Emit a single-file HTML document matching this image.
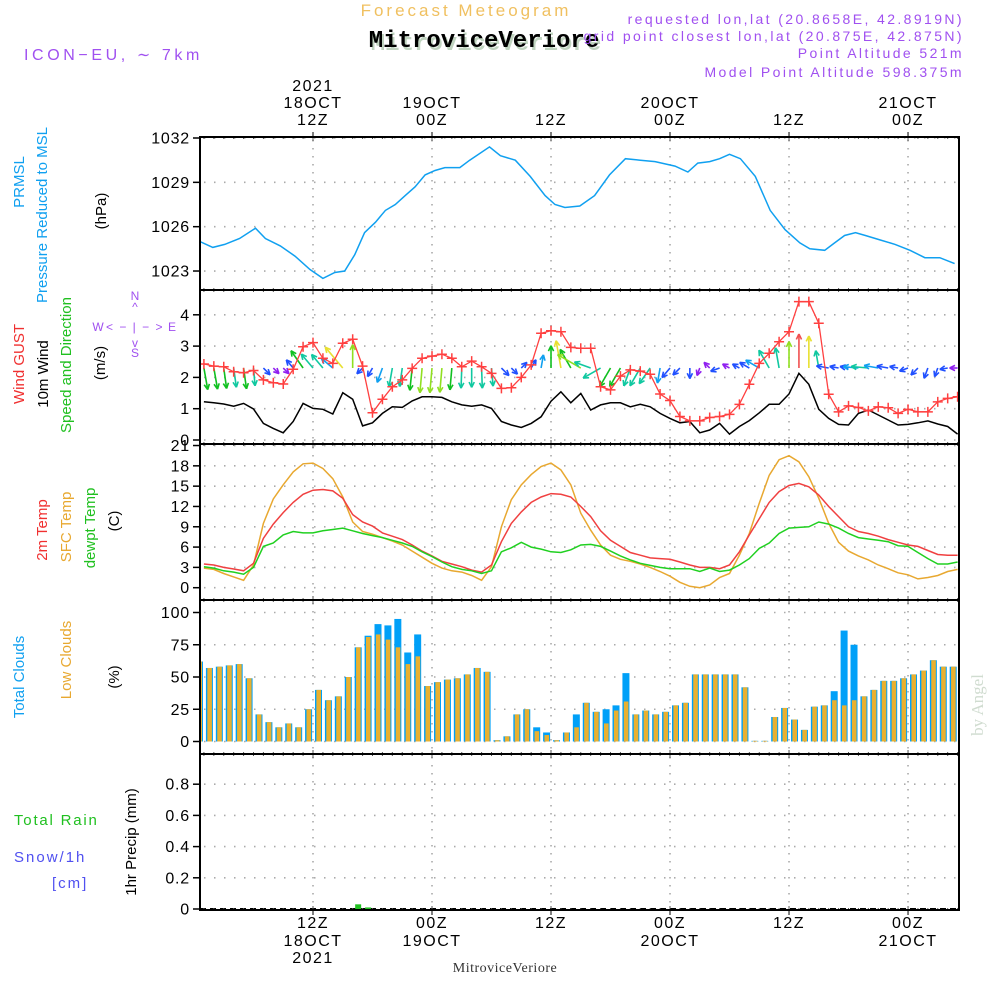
<!DOCTYPE html>
<html><head><meta charset="utf-8"><style>
html,body{margin:0;padding:0;background:#fff;width:1000px;height:1000px;overflow:hidden}
svg{display:block}
text{font-family:"Liberation Sans",sans-serif}
</style></head><body>
<svg id="chart" width="1000" height="1000" viewBox="0 0 1000 1000">
<defs><clipPath id="plotclip"><rect x="200" y="130" width="759" height="790"/></clipPath></defs>
<g>
<text x="466" y="16" text-anchor="middle" font-size="17" fill="#f0c060" letter-spacing="3" font-weight="300">Forecast Meteogram</text>
<text x="486" y="50" text-anchor="middle" font-size="24" font-weight="bold" fill="#c0d4c0" style="font-family:'Liberation Mono',monospace">MitroviceVeriore</text>
<text x="484" y="47" text-anchor="middle" font-size="24" font-weight="bold" fill="#000" style="font-family:'Liberation Mono',monospace">MitroviceVeriore</text>
<text x="24" y="60" font-size="16" fill="#a050f0" letter-spacing="3.6">ICON−EU, ∼ 7km</text>
<text x="964" y="24" text-anchor="end" font-size="14" fill="#a050f0" letter-spacing="2.4">requested lon,lat (20.8658E, 42.8919N)</text>
<text x="964" y="41" text-anchor="end" font-size="14" fill="#a050f0" letter-spacing="2.4">grid point closest lon,lat (20.875E, 42.875N)</text>
<text x="964" y="58" text-anchor="end" font-size="14" fill="#a050f0" letter-spacing="2.4">Point Altitude 521m</text>
<text x="964" y="77" text-anchor="end" font-size="14" fill="#a050f0" letter-spacing="2.4">Model Point Altitude 598.375m</text>
</g>
<g font-size="15">
<text transform="translate(24,182) rotate(-90)" text-anchor="middle" fill="#10a0f0">PRMSL</text>
<text transform="translate(47,215) rotate(-90)" text-anchor="middle" fill="#10a0f0">Pressure Reduced to MSL</text>
<text transform="translate(106,211) rotate(-90)" text-anchor="middle" fill="#000">(hPa)</text>
<text transform="translate(24,364) rotate(-90)" text-anchor="middle" fill="#f03030">Wind GUST</text>
<text transform="translate(48,374) rotate(-90)" text-anchor="middle" fill="#000">10m Wind</text>
<text transform="translate(71,365) rotate(-90)" text-anchor="middle" fill="#20c020">Speed and Direction</text>
<text transform="translate(105,363) rotate(-90)" text-anchor="middle" fill="#000">(m/s)</text>
<g fill="#a050f0" font-size="12">
<text x="135" y="300" text-anchor="middle">N</text><text x="135" y="311" text-anchor="middle">^</text>
<text x="98" y="331" text-anchor="middle">W</text><text x="135" y="331" text-anchor="middle" letter-spacing="1.5">&lt; − | − &gt;</text><text x="172" y="331" text-anchor="middle">E</text>
<text x="135" y="347" text-anchor="middle">v</text><text x="135" y="357" text-anchor="middle">S</text></g>
<text transform="translate(47,530) rotate(-90)" text-anchor="middle" fill="#f03030">2m Temp</text>
<text transform="translate(71,527) rotate(-90)" text-anchor="middle" fill="#e8a830">SFC Temp</text>
<text transform="translate(95,528) rotate(-90)" text-anchor="middle" fill="#20c020">dewpt Temp</text>
<text transform="translate(119,521) rotate(-90)" text-anchor="middle" fill="#000">(C)</text>
<text transform="translate(24,677) rotate(-90)" text-anchor="middle" fill="#10a0f0">Total Clouds</text>
<text transform="translate(71,660) rotate(-90)" text-anchor="middle" fill="#e8a830">Low Clouds</text>
<text transform="translate(119,677) rotate(-90)" text-anchor="middle" fill="#000">(%)</text>
<text x="14" y="825" fill="#20c020" letter-spacing="1.8">Total   Rain</text>
<text x="14" y="862" fill="#5050f0" letter-spacing="2">Snow/1h</text>
<text x="52" y="888" fill="#5050f0" letter-spacing="2">[cm]</text>
<text transform="translate(136,842) rotate(-90)" text-anchor="middle" fill="#000">1hr Precip (mm)</text>
<text transform="translate(983,705) rotate(-90)" text-anchor="middle" fill="#d0dcd0" font-size="17" style="font-family:'Liberation Serif',serif">by Angel</text>
<text x="505" y="972" text-anchor="middle" fill="#333" font-size="14" style="font-family:'Liberation Serif',serif" letter-spacing="0.5">MitroviceVeriore</text>
</g>
<g id="layer-grid"></g>
<g id="layer-data" clip-path="url(#plotclip)"></g>
<g id="layer-axes"></g>
</svg>
<script>
// ---- data (hour index from 00Z 18OCT 2021) ----
const pressHours=[0.6,1.9,3.1,4.6,6.2,7.2,8.7,10.2,11.7,13.0,14.2,15.2,16.2,17.2,18.3,19.3,20.3,21.3,22.3,23.3,24.3,25.3,26.8,27.8,29.8,30.9,32.4,33.9,35.4,36.4,37.4,38.9,40.4,41.9,43.5,45.0,46.5,48.5,49.8,50.8,52.0,53.0,54.0,55.1,56.6,58.1,59.6,61.1,62.1,63.6,64.6,65.6,66.7,67.7,69.2,70.7,72.2,73.7,75.2,76.7];
const pressure=[1025.0,1024.6,1024.8,1025.2,1025.9,1025.2,1024.7,1024.0,1023.1,1022.5,1022.9,1023.0,1024.1,1025.6,1026.3,1027.1,1027.5,1028.1,1028.7,1029.5,1029.8,1030.0,1030.0,1030.5,1031.4,1030.8,1030.5,1029.4,1028.1,1027.5,1027.3,1027.4,1028.1,1029.5,1030.6,1030.5,1030.4,1030.1,1029.7,1030.3,1030.4,1030.6,1030.9,1030.6,1029.4,1027.1,1025.8,1024.9,1024.5,1024.4,1024.9,1025.4,1025.6,1025.4,1025.1,1024.8,1024.4,1023.9,1023.9,1023.5];
// hourly series start at hour 1
const gust=[2.43,2.36,2.34,2.18,2.15,2.22,1.92,1.83,1.79,2.26,2.98,3.11,2.61,2.45,3.09,3.22,2.36,0.87,1.30,1.70,1.92,2.29,2.61,2.68,2.74,2.61,2.34,2.52,2.34,2.13,1.65,1.67,2.00,2.40,3.41,3.49,3.46,2.96,2.93,2.93,1.70,1.60,2.04,2.24,2.20,2.10,1.47,1.26,0.75,0.61,0.61,0.72,0.75,0.82,1.14,1.78,2.45,2.77,3.14,3.46,4.42,4.42,3.73,1.46,0.90,1.09,1.04,0.93,1.06,1.03,0.85,0.98,0.90,0.90,1.22,1.33,1.38];
const wind10=[1.22,1.19,1.15,1.08,1.17,0.99,0.53,0.37,0.23,0.59,1.17,1.01,0.98,0.83,1.51,1.30,0.45,0.55,0.85,1.06,1.04,1.25,1.38,1.38,1.36,1.22,1.12,1.08,1.12,1.01,0.59,0.48,0.40,0.53,0.74,1.24,1.54,1.19,1.49,0.96,1.12,1.19,1.19,1.06,1.14,1.06,0.85,0.69,0.55,0.59,0.23,0.32,0.53,0.19,0.43,0.62,0.87,1.14,1.14,1.47,2.13,1.78,0.98,0.69,0.50,0.48,0.85,0.96,0.80,0.64,0.48,0.50,0.55,0.61,0.51,0.43,0.19];
const windDirTo=[170,170,172,172,172,175,135,135,135,320,325,320,320,310,320,0,225,210,200,190,188,186,185,185,185,185,182,180,178,175,135,135,45,30,10,0,350,330,300,290,240,210,210,200,210,215,190,220,225,180,200,315,250,300,300,300,300,330,350,0,0,0,350,280,280,280,275,275,280,280,280,250,225,200,200,260,270];
const temp2m=[3.5,3.35,3.0,2.76,2.5,3.6,7.3,9.4,11.1,12.6,13.8,14.4,14.5,14.3,13.2,10.8,9.7,9.1,8.1,7.6,7.1,6.3,5.4,4.7,3.9,3.5,3.1,2.6,2.3,3.35,6.8,9.5,11.2,12.6,13.4,13.9,13.8,13.4,12.0,10.5,8.4,7.0,6.1,5.2,4.8,4.4,4.3,4.2,3.8,3.35,3.0,3.0,2.8,3.35,5.3,7.8,10.2,12.6,14.2,15.1,15.4,14.9,13.7,12.0,10.5,9.0,8.3,8.0,7.6,7.1,6.7,6.3,6.1,5.5,4.9,4.8,4.8];
const tempSfc=[2.9,2.7,2.1,1.6,1.1,3.35,9.5,13.1,15.2,17.1,18.3,18.4,17.6,16.1,13.4,9.7,8.3,7.9,7.4,6.9,6.3,5.4,4.5,3.6,2.9,2.5,2.3,1.8,1.1,3.1,9.0,13.0,15.2,16.7,17.9,18.4,17.4,15.2,11.0,8.5,6.3,4.8,4.2,3.9,3.5,3.0,2.4,1.7,0.8,0.2,0.0,0.4,1.5,2.1,4.8,8.0,12.5,16.6,18.9,19.5,18.6,16.4,13.2,9.5,6.7,5.4,4.7,4.1,3.35,2.8,2.2,1.9,1.3,1.5,1.8,2.4,2.7];
const dewpt=[3.1,2.9,2.5,2.3,2.0,3.0,6.1,6.6,7.8,8.3,8.1,8.1,8.4,8.6,8.8,8.4,8.0,7.7,7.4,7.0,6.6,6.1,5.3,4.6,3.8,3.1,2.7,2.5,2.1,2.5,5.3,5.9,6.7,6.0,5.7,5.3,5.2,5.6,6.3,6.4,6.1,5.4,4.7,4.1,3.6,3.3,3.0,2.8,2.8,2.8,2.4,2.9,2.4,2.6,3.35,4.3,5.8,6.6,8.0,8.8,8.9,9.0,9.7,9.4,8.8,8.0,7.4,7.2,7.0,6.8,6.2,6.1,5.2,4.3,3.5,3.5,3.8];
// clouds start at hour 0
const totalClouds=[62,57,58,59,60,49,21,15,11,14,11,25,40,32,35,50,73,82,91,90,95,69,83,43,46,48,49,52,57,54,1,4,21,25,11,7,1,7,21,30,23,25,28,53,21,24,21,23,28,30,52,52,52,52,52,42,0.5,0.5,19,26,17,9,27,28,39,86,75,35,40,47,47,49,52,55,63,58,58];
const lowClouds=[62,57,58,59,60,49,21,15,11,14,11,25,40,32,35,50,73,81,83,79,73,60,66,43,46,48,49,52,57,54,1,4,21,25,8,5,1,7,11,30,23,14,24,31,21,24,21,23,28,30,52,52,52,52,52,42,0.5,0.5,19,26,17,9,27,28,32,28,32,35,40,47,47,49,52,55,63,58,58];
const precipHours=[16,17];
const precipVals=[0.03,0.01];
const pressTicks=[1023,1026,1029,1032];
const windTicks=[0,1,2,3,4];
const tempTicks=[0,3,6,9,12,15,18,21];
const cloudTicks=[0,25,50,75,100];
const precipTicks=[0,0.2,0.4,0.6,0.8];
const precipTickLabels=["0","0.2","0.4","0.6","0.8"];
const majorHours=[12,24,36,48,60,72];
const topLabels=[["2021","18OCT","12Z"],["","19OCT","00Z"],["","","12Z"],["","20OCT","00Z"],["","","12Z"],["","21OCT","00Z"]];
const botLabels=[["12Z","18OCT","2021"],["00Z","19OCT",""],["12Z","",""],["00Z","20OCT",""],["12Z","",""],["00Z","21OCT",""]];

// ---- axes ----
const NS="http://www.w3.org/2000/svg";
const X0=200,X1=959;
const xh=h=>313+(h-12)*9.917;
const yP=v=>138+(1032-v)*14.78;
const yW=v=>440-v*31.3;
const yT=v=>587.7-v*6.77;
const yC=v=>741.5-v*1.29;
const yR=v=>909-v*156;
const panels=[[137,290],[290,444],[444,600],[600,754],[754,910]];
const G=document.getElementById('layer-grid'),D=document.getElementById('layer-data'),A=document.getElementById('layer-axes');
function mk(tag,attrs,parent){const e=document.createElementNS(NS,tag);for(const k in attrs)e.setAttribute(k,attrs[k]);parent.appendChild(e);return e;}
const dot={stroke:'#aaa','stroke-width':1.6,'stroke-dasharray':'1.5 8.5'};

function hgrid(ticks,yf,labels,name){
  ticks.forEach((t,i)=>{
    const y=yf(t);
    const l=mk('line',Object.assign({x1:X0+4,x2:X1,y1:y,y2:y},dot),G);
    
    
    const tk=mk('line',{x1:X0-7,x2:X0,y1:y,y2:y,stroke:'#000','stroke-width':1.5},A);
    
    
    const tx=mk('text',{x:X0-10,y:y+5.5,'text-anchor':'end','font-size':16,fill:'#000','letter-spacing':0.8},A);
    tx.textContent=labels?labels[i]:String(t);
    
    
  });
}
hgrid(pressTicks,yP,null,'pressure');
hgrid(windTicks,yW,null,'wind');
hgrid(tempTicks,yT,null,'temp');
hgrid(cloudTicks,yC,null,'cloud');
hgrid(precipTicks,yR,precipTickLabels,'precip');
panels.forEach(p=>{
  majorHours.forEach(h=>{
    const l=mk('line',Object.assign({x1:xh(h),x2:xh(h),y1:p[0]+3,y2:p[1]},dot,{'stroke-dasharray':'1.5 6.5'}),G);
    
    
  });
  for(let h=1;h<=77;h++){
    const x=xh(h);if(x>X1)break;
    const big=majorHours.includes(h);
    mk('line',{x1:x,x2:x,y1:p[0],y2:p[0]+(big?4:2),stroke:'#555','stroke-width':1},A);
    mk('line',{x1:x,x2:x,y1:p[1],y2:p[1]-(big?4:2),stroke:'#555','stroke-width':1},A);
  }
  const r=mk('rect',{x:X0,y:p[0],width:X1-X0,height:p[1]-p[0],fill:'none',stroke:'#000','stroke-width':2},A);
  
  
});
majorHours.forEach((h,i)=>{
  const x=xh(h);
  [87,104,121].forEach((y,j)=>{
    if(!topLabels[i][j])return;
    const t=mk('text',{x:x,y:y+4,'text-anchor':'middle','font-size':16,fill:'#000','letter-spacing':1.5},A);
    t.textContent=topLabels[i][j];
    
    
  });
  [928,946,963].forEach((y,j)=>{
    if(!botLabels[i][j])return;
    const t=mk('text',{x:x,y:y,'text-anchor':'middle','font-size':16,fill:'#000','letter-spacing':1.5},A);
    t.textContent=botLabels[i][j];
    
    
  });
  mk('line',{x1:x,x2:x,y1:910,y2:915,stroke:'#000'},A);
  mk('line',{x1:x,x2:x,y1:132,y2:137,stroke:'#000'},A);
});

function line(xs,vals,yf,color,name,w){
  const pts=vals.map((v,i)=>xs(i).toFixed(1)+','+yf(v).toFixed(1)).join(' ');
  const p=mk('polyline',{points:pts,fill:'none',stroke:color,'stroke-width':w||1.5},D);
  
  
  return p;
}
line(i=>xh(pressHours[i]),pressure,yP,'#10a0f0','pressure-line');
totalClouds.forEach((v,i)=>{
  const x=xh(i);
  const b=mk('rect',{x:x+2,y:yC(v),width:7,height:yC(0)-yC(v),fill:'#00a0f8'},D);
  
  
  const lv=lowClouds[i];
  const o=mk('rect',{x:x+3.4,y:yC(lv),width:4.6,height:yC(0)-yC(lv),fill:'#e8b030'},D);
  
  
});
line(i=>xh(i+1),tempSfc,yT,'#e8a830','sfc-temp-line');
line(i=>xh(i+1),temp2m,yT,'#f04040','2m-temp-line');
line(i=>xh(i+1),dewpt,yT,'#20d020','dewpt-temp-line');
line(i=>xh(i+1),wind10,yW,'#000','10m-wind-line');
function wcol(s){return s<0.4?'#9020f0':s<0.7?'#2050ff':s<0.95?'#10a0f0':s<1.15?'#10c8a0':s<1.3?'#10c020':s<1.5?'#90e020':s<1.8?'#e8e030':s<2.0?'#f09030':'#f05050';}
windDirTo.forEach((d,i)=>{
  const s=wind10[i];const L=Math.max(8,Math.min(34,18*s));
  const x0=xh(i+1),y0=yW(2.3);const a=d*Math.PI/180;
  const x1=x0+L*Math.sin(a),y1=y0-L*Math.cos(a);
  const c=wcol(s);
  const g=mk('g',{stroke:c,'stroke-width':1.6,fill:'none'},D);
  
  
  mk('line',{x1:x0,y1:y0,x2:x1,y2:y1},g);
  const hl=6;
  [a+Math.PI-0.45,a+Math.PI+0.45].forEach(b=>mk('line',{x1:x1,y1:y1,x2:x1+hl*Math.sin(b),y2:y1-hl*Math.cos(b)},g));
});
line(i=>xh(i+1),gust,yW,'#ff4040','wind-gust-line',1.3);
gust.forEach((v,i)=>{
  const x=xh(i+1),y=yW(v);
  const m=mk('path',{d:`M${x-5},${y}h10M${x},${y-5}v10`,stroke:'#ff4040','stroke-width':1.5},D);
  
  
});
const zl=mk('line',{x1:X0,x2:X1,y1:yR(0),y2:yR(0),stroke:'#000','stroke-width':2,'stroke-dasharray':'6 4'},D);


precipHours.forEach((h,i)=>{
  const v=precipVals[i],x=xh(h);
  const b=mk('rect',{x:x+2.5,y:yR(v),width:6,height:yR(0)-yR(v),fill:'#20c020'},D);
  
  
});
</script>
</body></html>
